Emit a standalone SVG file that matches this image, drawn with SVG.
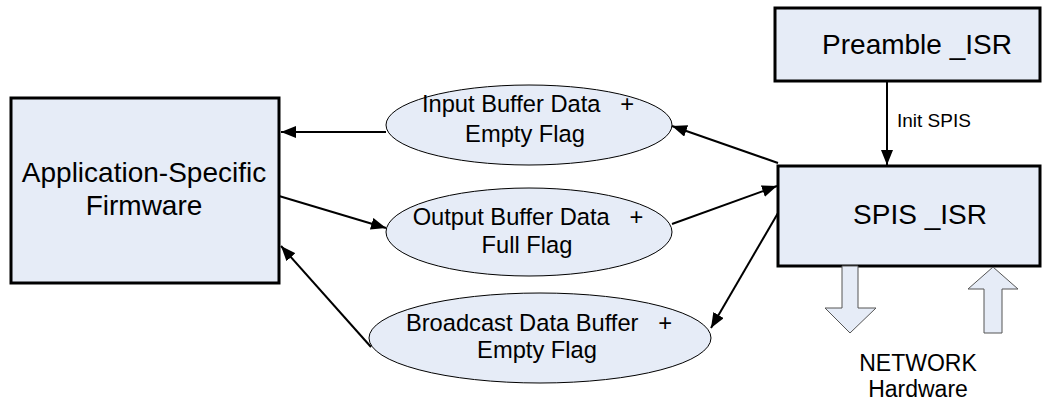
<svg xmlns="http://www.w3.org/2000/svg" width="1054" height="405" viewBox="0 0 1054 405">
<style>
  .box { fill: #E6ECF7; stroke: #000; stroke-width: 3; }
  .ell { fill: #E6ECF7; stroke: #000; stroke-width: 1; }
  .t { font-family: "Liberation Sans", Arial, sans-serif; fill: #000; text-anchor: middle; }
  .big { font-size: 28px; }
  .mid { font-size: 23.7px; }
  .sm { font-size: 23px; }
  .conn { stroke: #000; stroke-width: 2; fill: none; }
  .hollow { fill: #E6ECF7; stroke: #555; stroke-width: 1; }
</style>
<defs>
  <marker id="ah" markerUnits="userSpaceOnUse" markerWidth="16" markerHeight="12" refX="15" refY="6" orient="auto">
    <path d="M0,0 L15,6 L0,12 z" fill="#000"/>
  </marker>
</defs>
<rect width="1054" height="405" fill="#fff"/>

<g id="app">
  <rect class="box" x="11" y="98" width="268" height="185"/>
  <text class="t big" x="144" y="182">Application-Specific</text>
  <text class="t big" x="144" y="215">Firmware</text>
</g>

<g id="preamble">
  <rect class="box" x="775" y="8" width="265" height="73"/>
  <text class="t big" x="917" y="54">Preamble _ISR</text>
</g>

<g id="spis">
  <rect class="box" x="778" y="166" width="262" height="100"/>
  <text class="t big" x="920" y="224">SPIS _ISR</text>
</g>

<g id="input">
  <ellipse class="ell" cx="529" cy="125" rx="143" ry="40"/>
  <text class="t mid" x="528" y="112" xml:space="preserve">Input Buffer Data   +</text>
  <text class="t mid" x="525" y="142">Empty Flag</text>
</g>

<g id="output">
  <ellipse class="ell" cx="529" cy="232" rx="143" ry="44"/>
  <text class="t mid" x="528" y="225" xml:space="preserve">Output Buffer Data   +</text>
  <text class="t mid" x="527" y="253">Full Flag</text>
</g>

<g id="broadcast">
  <ellipse class="ell" cx="540" cy="338" rx="171" ry="45"/>
  <text class="t mid" x="539" y="331" xml:space="preserve">Broadcast Data Buffer   +</text>
  <text class="t mid" x="537" y="358">Empty Flag</text>
</g>

<g id="network">
  <polygon class="hollow" points="842,266 858,266 858,308 876,308 850,333 825,308 842,308"/>
  <polygon class="hollow" points="984,333 1002,333 1002,289 1018,289 993,267 968,289 984,289"/>
  <text class="t sm" x="918" y="371">NETWORK</text>
  <text class="t sm" x="918" y="397">Hardware</text>
</g>

<g id="connectors">
  <line class="conn" x1="887" y1="81" x2="887" y2="165" marker-end="url(#ah)"/>
  <line class="conn" x1="386" y1="132" x2="281" y2="132" marker-end="url(#ah)"/>
  <line class="conn" x1="778" y1="163" x2="672" y2="126" marker-end="url(#ah)"/>
  <line class="conn" x1="279" y1="196" x2="386" y2="228" marker-end="url(#ah)"/>
  <line class="conn" x1="672" y1="224" x2="777" y2="186" marker-end="url(#ah)"/>
  <line class="conn" x1="778" y1="213" x2="711" y2="328" marker-end="url(#ah)"/>
  <line class="conn" x1="371" y1="347" x2="281" y2="246" marker-end="url(#ah)"/>
  <text class="t" x="897" y="127" style="font-size:19px;text-anchor:start">Init SPIS</text>
</g>
</svg>
